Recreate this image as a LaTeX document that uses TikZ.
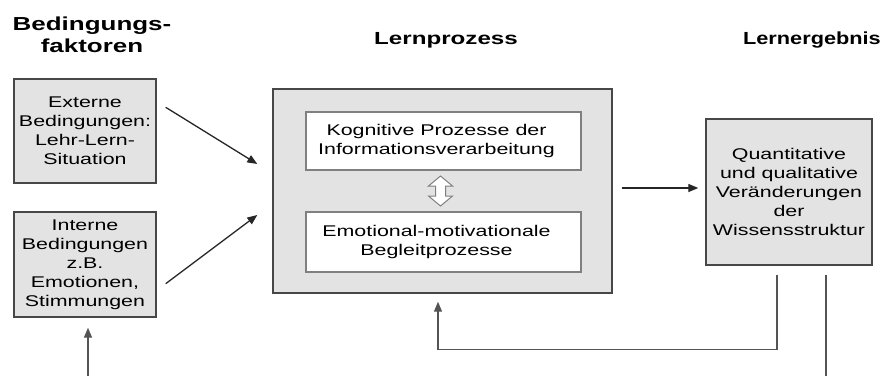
\documentclass[tikz,border=0pt]{standalone}
\usepackage{fontspec}
\setmainfont[FakeStretch=1.38]{Liberation Sans}
\usetikzlibrary{arrows.meta,calc}

\definecolor{boxgrau}{gray}{0.89}
\definecolor{randgrau}{gray}{0.28}
\definecolor{liniengrau}{gray}{0.33}

\tikzset{
  titel/.style={font=\bfseries\fontsize{17.5}{22}\selectfont, align=center, inner sep=0pt},
  kasten/.style={draw=randgrau, line width=1.4pt, fill=boxgrau, align=center, inner sep=0pt,
    font=\fontsize{15.5}{19}\selectfont},
  innen/.style={draw=gray, line width=1.1pt, fill=white, align=center, inner sep=0pt,
    font=\fontsize{15.5}{19}\selectfont, minimum width=275pt},
  pfeil/.style={line width=1.3pt, draw=black!85, -{Triangle[length=10pt,width=8pt]}},
  linie/.style={line width=1.3pt, draw=liniengrau}
}

\begin{document}
\begin{tikzpicture}[x=1pt,y=-1pt]
\useasboundingbox (0,0) rectangle (885,376);

\node[titel, font=\bfseries\fontsize{18.8}{22}\selectfont] (tbed) at (92,35) {Bedingungs-\\faktoren};
\node[titel, anchor=base] (tlern) at (446,44) {Lernprozess};
\node[titel, anchor=base east] (terg) at (881,44) {\scalebox{0.9}[1]{Lernergebnis}};

\node[kasten, minimum width=142pt, minimum height=104pt] (extern) at (85,131)
  {Externe\\Bedingungen:\\Lehr-Lern-\\Situation};
\node[kasten, minimum width=142pt, minimum height=105pt] (intern) at (85,264.5)
  {Interne\\Bedingungen\\z.B.\\Emotionen,\\Stimmungen};
\node[kasten, minimum width=339pt, minimum height=204pt] (lernproz) at (442.5,191) {};
\node[innen, minimum height=58pt] (kognitiv) at (443.5,141)
  {Kognitive Prozesse der\hspace*{14pt}\\Informationsverarbeitung\hspace*{14pt}};
\node[innen, minimum height=60pt] (emotional) at (443.5,242)
  {Emotional-motivationale\hspace*{14pt}\\Begleitprozesse\hspace*{14pt}};
\node[kasten, minimum width=166pt, minimum height=146pt] (ergebnis) at (789,192)
  {Quantitative\\und qualitative\\Ver\"anderungen\\der\\Wissensstruktur};

\coordinate (mitte) at ($(kognitiv.south)!0.5!(emotional.north)+(-3,0)$);
\coordinate (unten) at (88,376);
\coordinate (rechtsunten) at (826,376);

\draw[gray, line width=1pt, fill=white, shift={(mitte)}]
  (0,-15) -- (12,-5) -- (5,-5) -- (5,5) -- (12,5) -- (0,15) -- (-12,5) -- (-5,5)
  -- (-5,-5) -- (-12,-5) -- cycle;

\draw[pfeil] ($(extern.north east)+(9,29)$) -- ($(lernproz.west)+(-15,-27)$);
\draw[pfeil] ($(intern.south east)+(9,-34)$) -- ($(lernproz.west)+(-15,24)$);
\draw[pfeil] ($(lernproz.east)+(9,-3)$) -- ($(ergebnis.west)+(-7,-4)$);
\begin{scope}[linie]
\draw[-{Triangle[length=10pt,width=8pt]}] ($(ergebnis.south)+(-12,9)$) |- ($(lernproz.south)+(-4.5,56)$)
  -- ($(lernproz.south)+(-4.5,8)$);
\draw ($(ergebnis.south)+(37,9)$) -- (rechtsunten);
\draw[-{Triangle[length=10pt,width=8pt]}] (unten) -- ($(intern.south)+(3,10)$);
\end{scope}
\end{tikzpicture}
\end{document}
